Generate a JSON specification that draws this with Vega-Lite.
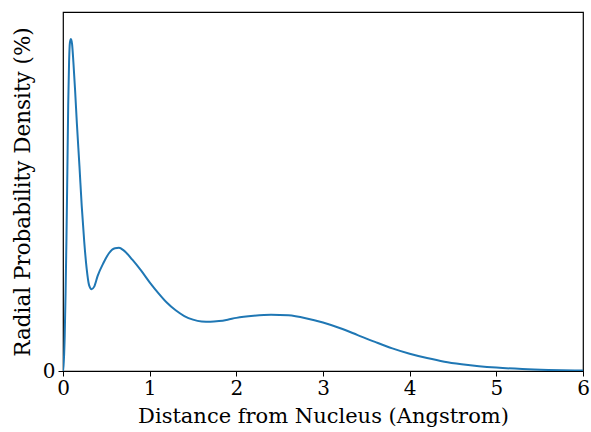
{
  "$schema": "https://vega.github.io/schema/vega-lite/v6.json",
  "autosize": "none",
  "width": 520,
  "height": 359,
  "padding": {"left": 63, "top": 12, "right": 8, "bottom": 61},
  "background": "white",
  "config": {
    "view": {"stroke": "black", "strokeWidth": 1.2},
    "font": "DejaVu Serif"
  },
  "data": {"values": [
    {"r": 0, "p": 0}, {"r": 0.01, "p": 3}, {"r": 0.02, "p": 10}, {"r": 0.03, "p": 22},
    {"r": 0.04, "p": 37}, {"r": 0.05, "p": 55}, {"r": 0.06, "p": 74}, {"r": 0.07, "p": 86},
    {"r": 0.08, "p": 91.5}, {"r": 0.092, "p": 92.5}, {"r": 0.105, "p": 91}, {"r": 0.12, "p": 86},
    {"r": 0.14, "p": 78}, {"r": 0.16, "p": 69}, {"r": 0.19, "p": 57}, {"r": 0.216, "p": 46},
    {"r": 0.245, "p": 36}, {"r": 0.273, "p": 28.5}, {"r": 0.30, "p": 24}, {"r": 0.33, "p": 22.8},
    {"r": 0.36, "p": 23.5}, {"r": 0.40, "p": 26.5}, {"r": 0.465, "p": 30}, {"r": 0.53, "p": 32.8},
    {"r": 0.60, "p": 34.2}, {"r": 0.646, "p": 34.3}, {"r": 0.70, "p": 33.6}, {"r": 0.80, "p": 31},
    {"r": 0.90, "p": 28}, {"r": 1.0, "p": 24.7}, {"r": 1.1, "p": 21.7}, {"r": 1.2, "p": 19.0},
    {"r": 1.3, "p": 16.9}, {"r": 1.4, "p": 15.3}, {"r": 1.5, "p": 14.3}, {"r": 1.6, "p": 13.8},
    {"r": 1.7, "p": 13.7}, {"r": 1.8, "p": 13.9}, {"r": 1.9, "p": 14.3}, {"r": 2.0, "p": 14.8},
    {"r": 2.2, "p": 15.4}, {"r": 2.4, "p": 15.7}, {"r": 2.6, "p": 15.5}, {"r": 2.8, "p": 14.7},
    {"r": 3.0, "p": 13.5}, {"r": 3.2, "p": 11.9}, {"r": 3.4, "p": 10.0}, {"r": 3.6, "p": 8.1},
    {"r": 3.8, "p": 6.3}, {"r": 4.0, "p": 4.8}, {"r": 4.2, "p": 3.6}, {"r": 4.4, "p": 2.6},
    {"r": 4.6, "p": 1.9}, {"r": 4.8, "p": 1.35}, {"r": 5.0, "p": 0.95}, {"r": 5.3, "p": 0.55},
    {"r": 5.6, "p": 0.3}, {"r": 6.0, "p": 0.12}
  ]},
  "mark": {"type": "line", "color": "#1f77b4", "strokeWidth": 2, "interpolate": "monotone", "clip": true},
  "encoding": {
    "x": {
      "field": "r", "type": "quantitative",
      "scale": {"domain": [0, 6], "nice": false, "zero": false},
      "axis": {
        "title": "Distance from Nucleus (Angstrom)",
        "values": [0, 1, 2, 3, 4, 5, 6],
        "format": "d",
        "labelFlush": false,
        "grid": false, "domain": false,
        "tickColor": "black", "tickSize": 5, "tickWidth": 1,
        "labelFont": "DejaVu Serif", "labelFontSize": 20, "labelColor": "black", "labelPadding": 2,
        "titleFont": "DejaVu Serif", "titleFontSize": 21, "titleFontWeight": "normal", "titleColor": "black", "titlePadding": 7
      }
    },
    "y": {
      "field": "p", "type": "quantitative",
      "scale": {"domain": [0, 100], "nice": false},
      "axis": {
        "title": "Radial Probability Density (%)",
        "values": [0],
        "labelFlush": false,
        "grid": false, "domain": false,
        "tickColor": "black", "tickSize": 5, "tickWidth": 1,
        "labelFont": "DejaVu Serif", "labelFontSize": 20, "labelColor": "black", "labelPadding": 3,
        "titleFont": "DejaVu Serif", "titleFontSize": 21.5, "titleFontWeight": "normal", "titleColor": "black", "titlePadding": 8
      }
    }
  }
}
